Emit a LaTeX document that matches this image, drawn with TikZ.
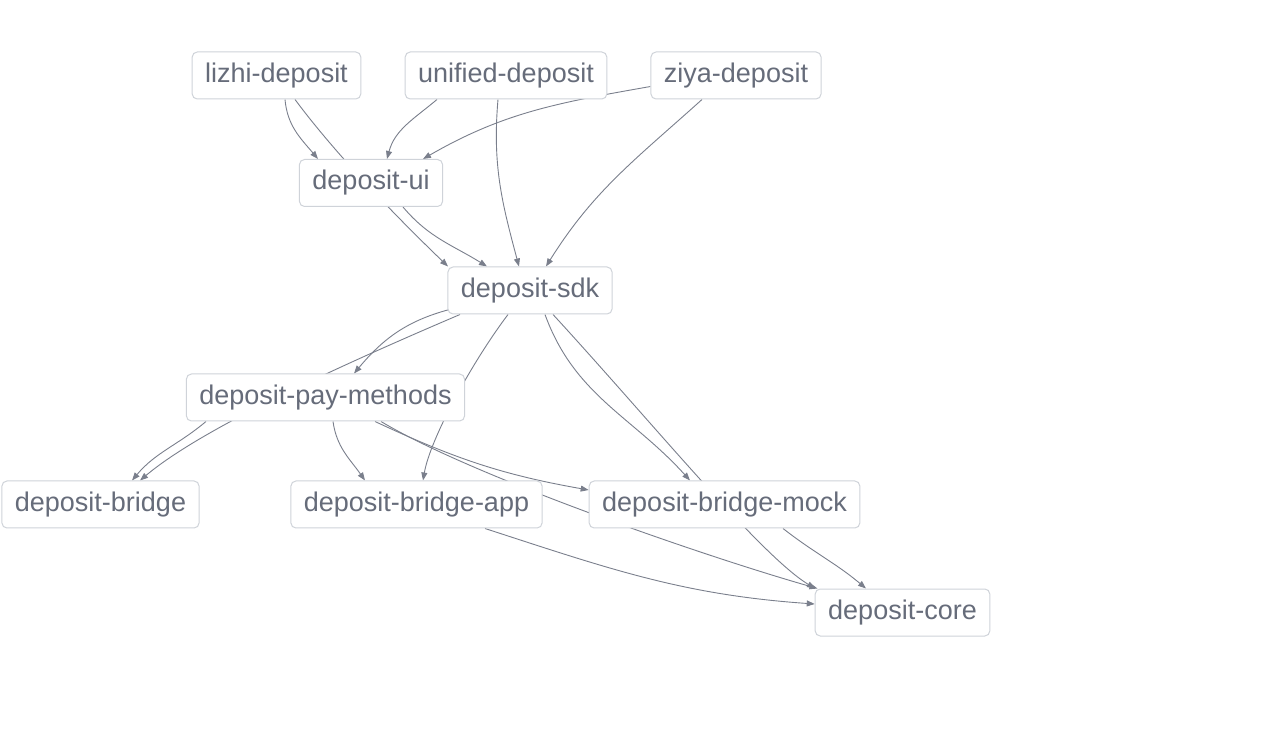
\documentclass[tikz,border=0pt]{standalone}
\usepackage{fontspec}
\setmainfont{Liberation Sans}
\usepackage{tikz}
\usetikzlibrary{arrows.meta, calc, positioning, backgrounds}
\usepackage{xcolor}
\definecolor{dText}{HTML}{666C7A}
\definecolor{dLine}{HTML}{7A7F8C}
\definecolor{dBorder}{HTML}{CFD3D9}

\begin{document}
\begin{tikzpicture}[
  x=0.5pt, y=-0.5pt,
  pkg/.style={draw=dBorder, line width=0.5pt, rounded corners=2.5pt, fill=white,
              minimum height=23.5pt, inner xsep=6.5pt, inner ysep=0pt,
              font=\fontsize{13.5}{16}\selectfont\color{dText}},
  arr/.style={-{Triangle[length=4pt, width=3pt]}, line width=0.45pt, dLine}]
  \useasboundingbox (0,0) rectangle (1280,737);
  % packages
  \node[pkg] (lizhi)   at (276.5,75.5)  {lizhi-deposit};
  \node[pkg] (unified) at (506,75.5)    {unified-deposit};
  \node[pkg] (ziya)    at (736,75.5)    {ziya-deposit};
  \node[pkg] (ui)      at (371,183)     {deposit-ui};
  \node[pkg] (sdk)     at (530,290.5)   {deposit-sdk};
  \node[pkg] (pay)     at (325.5,397.5) {deposit-pay-methods};
  \node[pkg] (bridge)  at (100.5,504.5) {deposit-bridge};
  \node[pkg] (app)     at (416.5,504.5) {deposit-bridge-app};
  \node[pkg] (mock)    at (724.5,504.5) {deposit-bridge-mock};
  \node[pkg] (core)    at (902.5,612.5) {deposit-core};
  % dependencies, behind the boxes
  \begin{scope}[on background layer]
    \draw[arr] ($(lizhi.south)+(8.5,0)$) to[out=-85, in=130] ($(ui.north)+(-53,0)$);
    \draw[arr] ($(lizhi.south)+(18.5,0)$) .. controls (340,160) and (405,225) .. ($(sdk.north)+(-82,0)$);
    \draw[arr] ($(unified.south)+(-69,0)$) to[out=-140, in=75] ($(ui.north)+(16,0)$);
    \draw[arr] ($(unified.south)+(-8,0)$) to[out=-95, in=105] ($(sdk.north)+(-11,0)$);
    \draw[arr] ($(ziya.west)+(0,11)$) to[out=190, in=30] ($(ui.north)+(52,0)$);
    \draw[arr] ($(ziya.south)+(-34,0)$) to[out=-138, in=58] ($(sdk.north)+(16,0)$);
    \draw[arr] ($(ui.south)+(32,0)$) to[out=-50, in=148] ($(sdk.north)+(-43,0)$);
    \draw[arr] ($(sdk.south west)+(2,-5)$) to[out=195, in=50] ($(pay.north)+(28.5,0)$);
    \draw[arr] ($(sdk.south)+(-70,0)$) .. controls (330,370) and (200,430) .. ($(bridge.north)+(39.5,0)$);
    \draw[arr] ($(sdk.south)+(-22,0)$) .. controls (470,365) and (430,440) .. ($(app.north)+(6.5,0)$);
    \draw[arr] ($(sdk.south)+(15,0)$) to[out=-70, in=132] ($(mock.north)+(-34.5,0)$);
    \draw[arr] ($(sdk.south)+(23,0)$) .. controls (650,420) and (760,555) .. ($(core.north)+(-87.5,0)$);
    \draw[arr] ($(pay.south)+(-119.5,0)$) to[out=-140, in=50] ($(bridge.north)+(31.5,0)$);
    \draw[arr] ($(pay.south)+(7.5,0)$) to[out=-82, in=125] ($(app.north)+(-51.5,0)$);
    \draw[arr] ($(pay.south)+(49.5,0)$) to[out=-25, in=170] ($(mock.west)+(0,-14.5)$);
    \draw[arr] ($(pay.south)+(55.5,0)$) .. controls (470,475) and (700,555) .. ($(core.north)+(-85,0)$);
    \draw[arr] ($(app.south)+(68.5,0)$) to[out=-18, in=176] ($(core.west)+(0,-8.5)$);
    \draw[arr] ($(mock.south)+(58.5,0)$) to[out=-38, in=140] ($(core.north)+(-36.5,0)$);
  \end{scope}
\end{tikzpicture}
\end{document}
